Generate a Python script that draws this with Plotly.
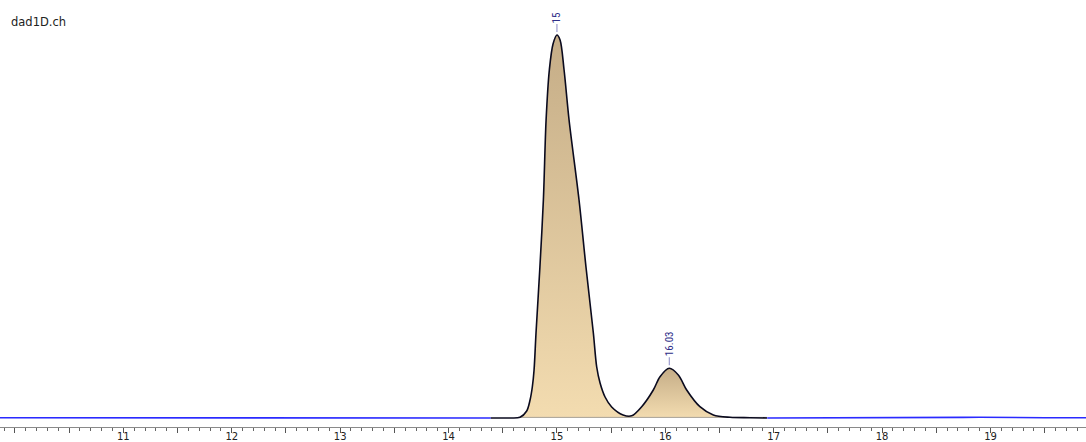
import plotly.graph_objects as go

# ---------------- data ----------------
# baseline signal (blue) before and after the peak cluster, time in min, signal in mAU
base_left_t = [9.862, 10.44, 10.55, 10.65, 10.76, 11.34, 11.45, 11.59, 11.65, 13.0, 14.39]
base_left_y = [0.3, 0.3, 0.0, 0.0, 0.3, 0.3, 0.0, 0.2, 0.0, 0.0, 0.0]
base_right_t = [16.94, 18.0, 18.6, 18.75, 18.9, 19.05, 19.25, 19.5, 19.881]
base_right_y = [0.0, 0.0, 0.0, 0.6, 0.8, 0.5, 0.2, 0.3, 0.2]

# peak 1 (RT 15.00)
peak1_t = [14.39, 14.48, 14.567, 14.659, 14.721, 14.752, 14.773, 14.789, 14.807, 14.843,
           14.875, 14.900, 14.930, 14.964, 15.000, 15.029, 15.066, 15.112, 15.204, 15.268,
           15.336, 15.367, 15.398, 15.444, 15.505, 15.61, 15.690]
peak1_y = [0.0, 0.0, 0.0, 0.7, 7, 18, 31, 48, 85, 151,
           218, 298, 348, 374, 383, 378, 348, 298, 218, 151,
           85, 51, 35, 21, 11, 3.0, 2.2]

# peak 2 (RT 16.03)
peak2_t = [15.690, 15.782, 15.889, 15.951, 16.037, 16.120, 16.197, 16.319, 16.443, 16.597, 16.781, 16.938]
peak2_y = [2.2, 11.3, 28, 41.3, 49.7, 43, 28, 11.3, 3.0, 0.7, 0.3, 0.0]

peak_labels = ["15", "16.03"]
peak_rt = [15.000, 16.037]
peak_height = [383, 49.7]

tick_labels = ["11", "12", "13", "14", "15", "16", "17", "18", "19"]
tick_values = [11, 12, 13, 14, 15, 16, 17, 18, 19]
unlabeled_ticks = [10, 10.5, 11.5, 12.5, 13.5, 14.5, 15.5, 16.5, 17.5, 18.5, 19.5]

x_range = [9.862, 19.881]
y_range = [-9, 418]

# ---------------- figure ----------------
fig = go.Figure()

light = "#f3dcb0"
dark = "#c5ad87"

# filled peak areas (vertical gradient, each relative to its own height)
fill1_t = peak1_t[3:]
fill1_y = peak1_y[3:]
fig.add_trace(go.Scatter(
    x=fill1_t, y=fill1_y, mode="lines",
    line=dict(width=0, shape="spline", smoothing=0.9),
    fill="tozeroy",
    fillgradient=dict(type="vertical", colorscale=[[0, light], [1, dark]]),
    hoverinfo="skip", showlegend=False))
fig.add_trace(go.Scatter(
    x=peak2_t, y=peak2_y, mode="lines",
    line=dict(width=0, shape="spline", smoothing=0.9),
    fill="tozeroy",
    fillgradient=dict(type="vertical", colorscale=[[0, light], [1, dark]]),
    hoverinfo="skip", showlegend=False))

# integration baseline under the peaks
fig.add_trace(go.Scatter(
    x=[fill1_t[0], peak2_t[-1]], y=[0.6, 0.6], mode="lines",
    line=dict(width=1, color="#a8a49c"),
    hoverinfo="skip", showlegend=False))

# blue baseline signal
fig.add_trace(go.Scatter(
    x=base_left_t, y=base_left_y, mode="lines",
    line=dict(width=1.6, color="#2a2aff"), hoverinfo="skip", showlegend=False))
fig.add_trace(go.Scatter(
    x=base_right_t, y=base_right_y, mode="lines",
    line=dict(width=1.6, color="#2a2aff"), hoverinfo="skip", showlegend=False))

# black signal over the peaks
sig_t = peak1_t + peak2_t[1:]
sig_y = peak1_y + peak2_y[1:]
fig.add_trace(go.Scatter(
    x=sig_t, y=sig_y, mode="lines",
    line=dict(width=1.6, color="#0a0a1e", shape="spline", smoothing=0.9),
    hoverinfo="skip", showlegend=False))

# peak labels with short leader lines
for lab, rt, h in zip(peak_labels, peak_rt, peak_height):
    fig.add_shape(type="line", xref="x", yref="y", x0=rt, x1=rt,
                  ysizemode="pixel", yanchor=h, y0=3, y1=11,
                  line=dict(color="#9c9ccf", width=1.2))
    fig.add_annotation(x=rt, y=h, xref="x", yref="y", text=lab, showarrow=False,
                       textangle=-90, yanchor="bottom", xanchor="center", yshift=10,
                       font=dict(family="Liberation Sans Narrow, Roboto Condensed, Liberation Sans",
                                 size=11, color="#2e2e88"))

fig.add_annotation(x=0, y=1, xref="paper", yref="paper", text="dad1D.ch", showarrow=False,
                   xanchor="left", yanchor="top", xshift=9, yshift=-13,
                   font=dict(family="DejaVu Sans", size=11.5, color="#222222"))

fig.update_layout(
    width=1086, height=442,
    margin=dict(l=0, r=0, t=0, b=15, autoexpand=False),
    paper_bgcolor="white", plot_bgcolor="white",
    xaxis=dict(range=x_range, showgrid=False, zeroline=False, automargin=False,
               showline=True, linecolor="#8a8a8a", linewidth=1,
               tickmode="array",
               tickvals=tick_values + unlabeled_ticks,
               ticktext=tick_labels + [""] * len(unlabeled_ticks),
               ticks="outside", ticklen=5, tickcolor="#555555", tickwidth=1,
               ticklabelstandoff=-5,
               tickfont=dict(family="DejaVu Sans", size=10, color="#222222"),
               minor=dict(tickmode="linear", tick0=0, dtick=0.1, ticks="outside",
                          ticklen=3, tickcolor="#666666", tickwidth=1)),
    yaxis=dict(range=y_range, visible=False, showgrid=False, zeroline=False,
               automargin=False),
)

fig.write_html("out.html")
